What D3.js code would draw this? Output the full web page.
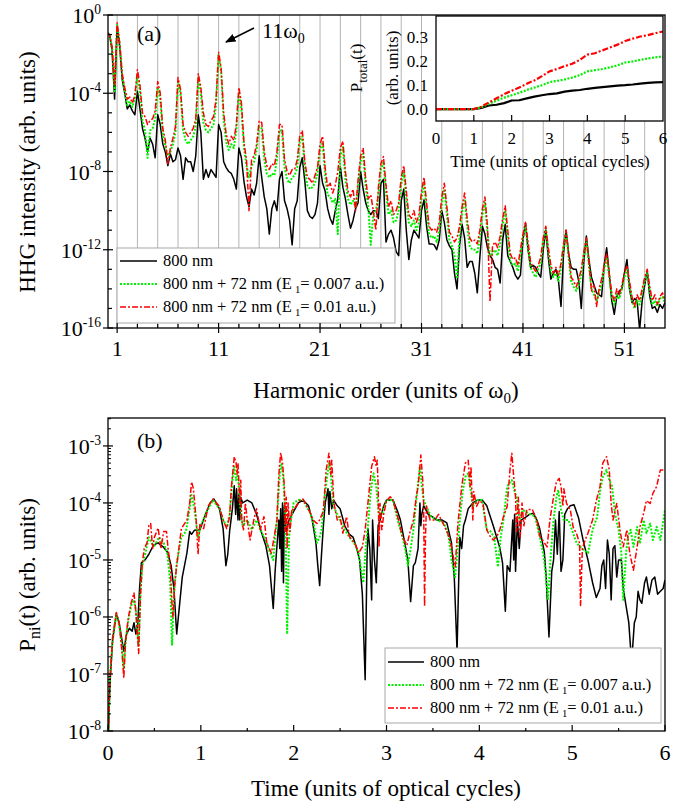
<!DOCTYPE html>
<html><head><meta charset="utf-8">
<script src="https://cdn.jsdelivr.net/npm/d3@7"></script>
<style>body{margin:0;background:#fff}svg text{font-family:"Liberation Serif","Times New Roman",Times,serif;fill:#000}</style>
</head><body><svg id="c" width="682" height="806"></svg>
<script>
// ---------------- DATA ----------------
// Panel (a): HHG spectra, log10 intensity sampled every 0.25 harmonic from 0 to 55 (rows = one harmonic unit)
const hhgBlackExp = [
-0.9,-1.0,-1.8,-4.3, -0.6,-1.6,-3.3,-4.0, -4.8,-4.6,-4.9,-5.1, -3.9,-4.8,-5.8,-6.3,
-7.0,-6.3,-6.6,-7.3, -5.1,-5.6,-6.6,-7.0, -7.7,-7.1,-7.5,-7.4, -6.8,-7.2,-8.4,-7.3,
-7.5,-7.5,-8.0,-7.2, -5.1,-6.0,-8.4,-7.9, -8.3,-7.9,-8.1,-8.3, -5.6,-6.0,-7.5,-7.8,
-8.0,-8.1,-8.4,-8.9, -6.8,-7.3,-8.5,-9.3, -9.8,-8.9,-9.2,-8.6, -7.2,-8.3,-9.3,-9.9,
-11.2,-9.9,-9.5,-10.0, -8.4,-8.0,-9.5,-9.9, -10.5,-11.75,-9.9,-9.5, -7.8,-7.3,-8.5,-10.0,
-10.3,-10.4,-10.2,-9.6, -7.7,-8.6,-9.0,-9.9, -10.4,-10.7,-10.0,-9.4, -7.75,-8.8,-9.4,-10.2,
-10.9,-10.5,-9.9,-9.6, -8.0,-8.9,-9.6,-10.0, -10.2,-10.0,-10.0,-10.4, -8.6,-8.4,-11.6,-11.2,
-11.0,-11.4,-12.1,-12.3, -9.5,-8.9,-11.0,-12.5, -11.5,-11.0,-11.2,-11.4, -10.0,-9.45,-10.8,-11.7,
-11.7,-11.75,-12.0,-11.5, -10.0,-10.6,-11.5,-11.8, -12.0,-13.2,-14.0,-11.8, -10.7,-11.4,-12.9,-12.6,
-12.6,-13.2,-14.2,-12.4, -10.8,-11.2,-11.9,-12.3, -12.5,-12.9,-13.0,-13.7, -11.5,-10.7,-12.3,-12.6,
-12.9,-13.3,-13.5,-13.3, -11.5,-10.65,-12.0,-12.9, -12.8,-12.9,-13.2,-13.4, -12.0,-11.0,-12.4,-13.5,
-13.2,-13.0,-13.6,-14.9, -12.2,-11.0,-12.2,-12.9, -13.0,-13.0,-13.6,-15.0, -12.6,-11.3,-12.5,-13.4,
-13.8,-14.2,-14.3,-14.4, -12.8,-11.9,-13.2,-14.6, -15.3,-14.4,-14.1,-14.0, -13.2,-12.5,-14.0,-14.7,
-14.5,-14.6,-16.1,-14.6, -13.8,-13.1,-14.4,-15.0, -14.9,-15.2,-14.8,-15.0, -14.7];
const hhgGreenExp = [
-0.9,-1.0,-1.7,-3.9, -0.5,-1.5,-3.1,-3.9, -4.6,-4.4,-4.7,-4.3, -3.1,-3.9,-5.4,-5.9,
-7.3,-5.9,-5.8,-5.3, -3.7,-4.3,-6.1,-6.7, -7.2,-7.0,-6.6,-6.0, -3.4,-4.0,-5.9,-6.4,
-6.6,-6.4,-6.2,-5.7, -3.2,-4.0,-5.5,-5.9, -6.0,-5.8,-5.6,-4.6, -2.05,-2.9,-5.4,-6.5,
-6.9,-6.6,-6.8,-5.9, -4.0,-4.8,-6.8,-7.7, -8.3,-7.7,-7.5,-6.9, -5.7,-5.8,-7.4,-8.1,
-8.3,-8.1,-8.2,-7.4, -5.9,-5.9,-7.8,-8.4, -8.6,-8.3,-8.2,-7.8, -6.5,-6.2,-7.9,-8.7,
-8.9,-8.8,-8.6,-8.1, -6.9,-6.5,-8.2,-9.2, -9.3,-9.6,-9.4,-11.2, -7.2,-6.75,-8.4,-9.4,
-9.7,-9.5,-9.8,-8.8, -7.5,-7.1,-8.8,-9.8, -11.75,-10.2,-10.0,-9.2, -7.9,-7.5,-9.1,-10.2,
-10.0,-10.6,-10.5,-10.0, -8.7,-8.0,-9.4,-10.6, -10.8,-10.5,-11.0,-10.6, -9.4,-8.6,-10.0,-11.2,
-11.4,-11.3,-11.6,-11.0, -9.7,-8.9,-10.2,-11.5, -11.8,-12.3,-13.4,-11.3, -10.1,-9.4,-10.8,-11.8,
-12.0,-12.0,-12.2,-11.4, -10.2,-9.6,-11.1,-12.3, -12.2,-12.0,-12.3,-11.7, -10.7,-10.0,-11.4,-12.6,
-12.8,-12.7,-13.1,-12.3, -11.4,-10.8,-11.9,-12.9, -13.2,-13.4,-13.0,-12.7, -11.6,-10.9,-12.1,-13.1,
-13.4,-13.2,-13.6,-12.9, -11.9,-11.1,-12.4,-13.6, -13.9,-14.1,-13.8,-13.3, -12.3,-11.5,-12.8,-14.0,
-14.3,-14.6,-14.2,-13.8, -13.0,-12.4,-13.4,-14.4, -14.8,-14.3,-14.5,-14.0, -13.4,-13.0,-13.9,-14.6,
-15.0,-14.6,-14.8,-14.2, -13.6,-13.2,-14.1,-14.8, -14.6,-14.9,-14.5,-14.4, -14.7];
const hhgRedExp = [
-0.9,-1.0,-1.6,-3.6, -0.4,-1.4,-3.0,-3.7, -4.3,-4.2,-4.5,-4.1, -2.8,-3.6,-5.0,-5.2,
-5.6,-5.4,-5.3,-4.9, -3.4,-4.0,-5.8,-6.4, -7.6,-6.8,-6.3,-5.7, -3.2,-3.8,-5.6,-6.0,
-6.2,-6.0,-5.8,-5.3, -3.0,-3.7,-5.0,-5.6, -5.7,-5.4,-5.2,-4.3, -1.9,-2.7,-5.0,-6.1,
-6.6,-6.2,-6.4,-5.6, -3.7,-4.5,-6.5,-7.4, -10.0,-7.4,-7.2,-6.6, -5.4,-5.5,-7.0,-7.7,
-7.9,-7.6,-7.7,-7.0, -5.6,-5.6,-7.4,-8.0, -8.2,-7.9,-7.9,-7.4, -6.2,-5.9,-7.5,-8.3,
-8.4,-8.6,-8.2,-7.8, -6.6,-6.2,-7.8,-8.8, -8.6,-9.1,-8.7,-8.0, -6.8,-6.45,-8.0,-9.0,
-9.3,-8.9,-10.0,-8.4, -7.2,-6.8,-8.4,-9.4, -9.2,-10.0,-11.0,-8.8, -7.6,-7.24,-8.7,-9.8,
-9.5,-10.2,-10.0,-9.6, -8.3,-7.7,-9.0,-10.2, -10.4,-10.0,-10.6,-10.2, -9.0,-8.3,-9.6,-10.8,
-11.0,-10.9,-11.1,-10.6, -9.3,-8.6,-9.8,-11.1, -11.3,-11.6,-11.4,-10.8, -9.8,-9.1,-10.4,-11.4,
-11.6,-11.5,-11.7,-11.0, -9.9,-9.3,-10.8,-14.65, -11.8,-11.6,-11.9,-11.3, -10.4,-9.75,-11.0,-12.2,
-12.5,-12.4,-12.8,-12.0, -11.2,-10.6,-11.6,-12.6, -12.9,-13.1,-12.8,-12.4, -11.4,-10.8,-11.9,-12.8,
-13.2,-12.9,-13.3,-12.7, -11.7,-11.0,-12.2,-13.4, -13.6,-13.9,-13.5,-13.0, -12.1,-11.4,-12.6,-14.1,
-13.8,-14.9,-14.0,-13.5, -12.8,-12.2,-13.2,-14.2, -14.6,-14.0,-14.3,-13.8, -13.2,-12.8,-13.6,-14.4,
-14.9,-14.3,-14.6,-14.0, -13.4,-13.0,-13.9,-14.6, -14.3,-14.8,-14.4,-14.2, -14.6];
const harmonicStep = 0.25;
const harmonicTicksMajor = [1, 11, 21, 31, 41, 51];
const harmonicGridLines = [1,3,5,7,9,11,13,15,17,19,21,23,25,27,29,31,33,35,37,39,41,43,45,47,49,51,53];
const hhgDecadesMajor = [0, -4, -8, -12, -16];

// Inset: total ionization probability
const insetTime  = [0,0.5,1,1.2,1.4,1.6,1.8,2,2.2,2.4,2.6,2.8,3,3.2,3.4,3.6,3.8,4,4.2,4.4,4.6,4.8,5,5.2,5.4,5.6,5.8,6];
const insetBlack = [0,0,0,0.005,0.015,0.018,0.025,0.036,0.037,0.045,0.052,0.058,0.063,0.066,0.073,0.077,0.08,0.085,0.089,0.092,0.095,0.098,0.1,0.103,0.107,0.11,0.112,0.113];
const insetGreen = [0,0,0,0.008,0.022,0.035,0.048,0.058,0.068,0.08,0.09,0.1,0.113,0.118,0.124,0.132,0.142,0.158,0.163,0.168,0.175,0.183,0.195,0.2,0.206,0.212,0.217,0.22];
const insetRed   = [0,0,0,0.01,0.028,0.045,0.062,0.077,0.09,0.106,0.12,0.138,0.158,0.168,0.18,0.19,0.206,0.228,0.234,0.246,0.258,0.27,0.285,0.295,0.304,0.31,0.318,0.325];
const insetXTicks = [0,1,2,3,4,5,6];
const insetYTicks = [0.0,0.1,0.2,0.3];

// Panel (b): P_ni(t), pairs [time, log10 value]
const pniBlack = [[0.0,-8.3],[0.02,-7.2],[0.05,-6.4],[0.09,-5.95],[0.12,-6.1],[0.15,-6.4],[0.17,-6.6],[0.2,-6.3],[0.23,-6.2],[0.26,-6.25],[0.28,-6.1],[0.3,-6.3],[0.32,-6.15],[0.34,-5.5],[0.36,-5.05],[0.4,-5.0],[0.44,-4.9],[0.49,-4.74],[0.54,-4.7],[0.6,-4.78],[0.64,-4.86],[0.68,-5.1],[0.71,-5.5],[0.74,-6.3],[0.77,-5.8],[0.8,-5.3],[0.85,-4.88],[0.88,-4.5],[0.9,-4.55],[0.93,-4.48],[0.99,-4.47],[1.05,-4.2],[1.1,-4.0],[1.14,-3.93],[1.2,-4.1],[1.24,-4.45],[1.27,-5.1],[1.29,-4.9],[1.31,-4.5],[1.34,-4.1],[1.36,-3.7],[1.375,-4.2],[1.385,-3.75],[1.4,-4.3],[1.41,-3.85],[1.42,-4.3],[1.43,-3.9],[1.45,-4.0],[1.5,-3.95],[1.55,-4.0],[1.6,-4.2],[1.65,-4.5],[1.7,-4.75],[1.74,-5.1],[1.78,-5.85],[1.8,-5.2],[1.82,-4.75],[1.84,-4.3],[1.85,-4.8],[1.86,-4.1],[1.87,-5.2],[1.88,-4.0],[1.89,-5.4],[1.9,-4.05],[1.92,-4.5],[1.95,-4.3],[2.0,-4.15],[2.05,-4.0],[2.1,-3.95],[2.16,-4.05],[2.2,-4.3],[2.24,-4.7],[2.26,-5.1],[2.28,-5.45],[2.3,-4.9],[2.32,-4.4],[2.34,-4.0],[2.37,-3.75],[2.38,-4.2],[2.39,-3.8],[2.41,-4.1],[2.43,-3.95],[2.47,-4.05],[2.5,-4.1],[2.55,-4.4],[2.6,-4.55],[2.64,-4.6],[2.68,-4.8],[2.71,-5.0],[2.74,-5.6],[2.77,-7.1],[2.79,-5.0],[2.8,-4.45],[2.82,-4.8],[2.84,-5.7],[2.85,-4.3],[2.87,-5.0],[2.89,-5.4],[2.91,-4.4],[2.93,-4.3],[2.97,-4.05],[3.0,-3.95],[3.07,-3.95],[3.12,-4.15],[3.15,-4.3],[3.2,-4.73],[3.23,-5.0],[3.26,-5.73],[3.29,-5.1],[3.31,-5.05],[3.34,-4.8],[3.36,-4.0],[3.37,-4.4],[3.38,-4.2],[3.4,-4.05],[3.45,-4.2],[3.5,-4.25],[3.54,-4.3],[3.6,-4.3],[3.65,-4.35],[3.7,-4.7],[3.73,-5.3],[3.76,-6.6],[3.78,-5.2],[3.79,-4.6],[3.81,-4.8],[3.83,-4.4],[3.85,-4.3],[3.88,-4.1],[3.93,-4.0],[3.98,-3.95],[4.03,-3.95],[4.08,-4.05],[4.15,-4.4],[4.22,-4.78],[4.25,-5.05],[4.28,-5.9],[4.3,-5.1],[4.33,-5.2],[4.36,-4.3],[4.37,-5.0],[4.38,-4.2],[4.39,-5.2],[4.41,-4.3],[4.43,-4.8],[4.45,-4.3],[4.5,-4.25],[4.54,-4.2],[4.58,-4.18],[4.62,-4.3],[4.65,-4.45],[4.7,-4.86],[4.72,-5.3],[4.75,-6.35],[4.78,-5.2],[4.8,-5.0],[4.82,-4.3],[4.84,-4.9],[4.86,-4.15],[4.88,-5.2],[4.9,-5.0],[4.92,-4.2],[4.95,-4.1],[4.98,-4.05],[5.02,-4.03],[5.07,-4.27],[5.12,-4.67],[5.17,-5.0],[5.22,-5.4],[5.26,-5.66],[5.3,-5.5],[5.32,-5.1],[5.34,-5.0],[5.36,-5.5],[5.38,-4.65],[5.4,-4.9],[5.42,-5.7],[5.44,-4.8],[5.46,-4.75],[5.48,-5.3],[5.5,-5.0],[5.53,-5.0],[5.55,-5.5],[5.58,-5.8],[5.61,-6.1],[5.64,-6.8],[5.67,-6.1],[5.69,-6.0],[5.71,-5.55],[5.73,-5.7],[5.75,-5.76],[5.78,-5.4],[5.8,-5.3],[5.83,-5.6],[5.86,-5.35],[5.89,-5.3],[5.92,-5.6],[5.95,-5.55],[5.98,-5.5],[6.0,-5.35]];
const pniGreen = [[0.0,-8.3],[0.02,-7.1],[0.05,-6.4],[0.09,-5.95],[0.12,-6.15],[0.15,-6.5],[0.17,-6.9],[0.19,-6.4],[0.22,-6.05],[0.25,-5.8],[0.28,-5.7],[0.3,-5.9],[0.33,-6.5],[0.35,-5.6],[0.37,-5.1],[0.4,-4.9],[0.44,-4.6],[0.47,-4.7],[0.5,-4.75],[0.55,-4.6],[0.6,-4.7],[0.64,-4.9],[0.67,-5.4],[0.69,-6.5],[0.71,-5.6],[0.74,-5.06],[0.79,-4.6],[0.84,-4.5],[0.88,-4.1],[0.9,-3.86],[0.93,-4.1],[0.97,-4.6],[1.0,-4.4],[1.05,-4.2],[1.13,-3.95],[1.2,-4.1],[1.24,-4.3],[1.28,-4.42],[1.31,-4.2],[1.34,-3.6],[1.36,-3.36],[1.38,-3.6],[1.4,-3.5],[1.42,-4.01],[1.45,-4.4],[1.5,-4.3],[1.55,-4.47],[1.6,-4.3],[1.65,-4.5],[1.7,-4.65],[1.74,-4.85],[1.78,-5.0],[1.8,-4.6],[1.82,-4.3],[1.85,-3.5],[1.87,-3.3],[1.89,-3.6],[1.91,-4.2],[1.93,-6.3],[1.95,-4.6],[1.97,-4.3],[2.0,-4.0],[2.05,-3.95],[2.1,-3.95],[2.18,-4.18],[2.22,-4.4],[2.25,-4.7],[2.28,-4.6],[2.3,-4.47],[2.34,-3.8],[2.38,-3.3],[2.4,-3.5],[2.43,-4.06],[2.47,-4.2],[2.5,-4.3],[2.55,-4.47],[2.6,-4.6],[2.65,-4.7],[2.7,-4.88],[2.75,-5.4],[2.78,-4.7],[2.8,-4.4],[2.83,-3.8],[2.86,-3.48],[2.89,-3.71],[2.92,-4.24],[2.95,-4.2],[3.0,-3.95],[3.07,-3.95],[3.12,-4.3],[3.17,-4.59],[3.2,-4.8],[3.23,-5.1],[3.26,-4.8],[3.29,-4.47],[3.33,-3.8],[3.36,-3.36],[3.38,-3.7],[3.4,-3.95],[3.43,-4.06],[3.48,-4.24],[3.55,-4.3],[3.62,-4.36],[3.67,-4.6],[3.7,-5.0],[3.74,-5.3],[3.77,-4.7],[3.79,-4.3],[3.82,-3.8],[3.85,-3.54],[3.88,-3.48],[3.9,-3.7],[3.93,-4.06],[3.98,-3.95],[4.03,-3.95],[4.08,-4.47],[4.12,-4.5],[4.16,-4.6],[4.2,-5.12],[4.23,-4.6],[4.26,-4.3],[4.3,-3.71],[4.35,-3.6],[4.38,-3.8],[4.4,-3.89],[4.43,-4.3],[4.47,-4.12],[4.53,-4.18],[4.6,-4.24],[4.65,-4.59],[4.69,-4.9],[4.71,-5.18],[4.74,-5.7],[4.77,-4.9],[4.8,-4.3],[4.83,-3.9],[4.85,-3.77],[4.88,-4.12],[4.91,-4.3],[4.96,-4.3],[5.05,-4.71],[5.12,-4.82],[5.17,-4.88],[5.22,-4.47],[5.27,-4.24],[5.3,-3.8],[5.33,-3.54],[5.37,-3.42],[5.4,-3.6],[5.43,-3.71],[5.46,-4.18],[5.5,-4.47],[5.53,-4.88],[5.55,-5.7],[5.58,-4.9],[5.6,-4.59],[5.63,-4.47],[5.66,-4.77],[5.7,-4.42],[5.73,-4.71],[5.77,-4.3],[5.8,-4.53],[5.84,-4.36],[5.87,-4.65],[5.91,-4.42],[5.95,-4.65],[6.0,-4.12]];
const pniRed = [[0.0,-8.3],[0.02,-7.1],[0.05,-6.35],[0.09,-5.92],[0.12,-6.1],[0.15,-6.6],[0.17,-7.07],[0.19,-6.4],[0.22,-6.0],[0.25,-5.75],[0.28,-5.58],[0.3,-5.9],[0.33,-6.64],[0.35,-5.6],[0.37,-5.05],[0.39,-4.8],[0.42,-4.7],[0.44,-4.4],[0.46,-4.36],[0.48,-4.8],[0.5,-4.6],[0.54,-4.44],[0.57,-4.8],[0.6,-4.5],[0.63,-4.5],[0.65,-4.85],[0.67,-5.05],[0.69,-5.8],[0.7,-6.0],[0.72,-5.4],[0.74,-5.1],[0.79,-4.45],[0.85,-4.3],[0.88,-4.0],[0.9,-3.63],[0.92,-3.75],[0.95,-4.3],[0.97,-4.9],[0.99,-4.36],[1.03,-4.45],[1.08,-4.05],[1.13,-3.93],[1.2,-4.06],[1.24,-4.3],[1.28,-4.45],[1.31,-4.24],[1.33,-3.7],[1.36,-3.19],[1.38,-3.3],[1.39,-3.5],[1.4,-3.3],[1.42,-4.0],[1.43,-3.6],[1.44,-4.3],[1.46,-4.47],[1.48,-4.0],[1.5,-4.3],[1.53,-4.65],[1.57,-4.3],[1.6,-4.1],[1.64,-4.47],[1.68,-4.24],[1.71,-4.7],[1.76,-4.88],[1.8,-4.5],[1.82,-4.3],[1.84,-3.5],[1.86,-3.12],[1.88,-3.3],[1.9,-3.71],[1.91,-4.5],[1.92,-3.9],[1.93,-4.8],[1.94,-4.0],[1.96,-4.5],[1.98,-4.1],[2.0,-4.12],[2.07,-3.95],[2.1,-3.93],[2.18,-4.18],[2.21,-4.3],[2.25,-4.36],[2.28,-4.3],[2.32,-4.14],[2.35,-3.42],[2.38,-3.13],[2.4,-3.5],[2.41,-3.25],[2.43,-3.9],[2.44,-4.06],[2.47,-4.3],[2.5,-4.24],[2.53,-4.53],[2.57,-4.24],[2.6,-4.59],[2.66,-4.71],[2.7,-4.88],[2.74,-4.77],[2.77,-4.47],[2.8,-4.0],[2.84,-3.36],[2.87,-3.19],[2.89,-3.36],[2.9,-3.25],[2.91,-3.71],[2.92,-4.77],[2.93,-4.01],[2.95,-4.47],[2.97,-4.2],[3.0,-3.96],[3.04,-3.89],[3.07,-3.95],[3.13,-4.3],[3.17,-4.59],[3.22,-4.74],[3.25,-4.53],[3.29,-4.3],[3.32,-3.9],[3.34,-3.72],[3.37,-3.16],[3.39,-3.6],[3.4,-4.01],[3.41,-5.82],[3.42,-4.6],[3.43,-4.06],[3.47,-4.3],[3.52,-4.3],[3.56,-4.2],[3.61,-4.36],[3.66,-4.53],[3.7,-4.77],[3.74,-5.12],[3.77,-4.35],[3.81,-3.71],[3.85,-3.3],[3.88,-3.25],[3.9,-3.71],[3.91,-3.36],[3.93,-4.3],[3.94,-3.8],[3.97,-4.06],[4.0,-3.96],[4.04,-4.01],[4.08,-4.47],[4.11,-4.57],[4.15,-4.65],[4.19,-4.59],[4.22,-4.47],[4.26,-4.24],[4.3,-4.06],[4.33,-3.42],[4.35,-3.13],[4.37,-3.54],[4.39,-3.89],[4.4,-4.5],[4.42,-3.9],[4.44,-4.6],[4.46,-4.0],[4.48,-4.4],[4.51,-4.12],[4.57,-4.11],[4.62,-4.3],[4.65,-4.58],[4.68,-4.65],[4.73,-4.77],[4.76,-4.3],[4.8,-3.89],[4.83,-3.63],[4.86,-3.57],[4.88,-3.71],[4.9,-4.06],[4.91,-3.75],[4.94,-4.01],[4.98,-4.12],[5.01,-4.42],[5.05,-4.55],[5.08,-4.71],[5.09,-5.8],[5.11,-4.8],[5.14,-4.65],[5.17,-4.53],[5.22,-4.3],[5.26,-3.96],[5.3,-3.71],[5.33,-3.3],[5.37,-3.19],[5.4,-3.42],[5.42,-4.01],[5.44,-4.3],[5.48,-4.01],[5.52,-4.53],[5.55,-4.77],[5.59,-4.47],[5.62,-4.88],[5.66,-5.18],[5.7,-4.77],[5.73,-4.42],[5.77,-4.18],[5.8,-3.96],[5.84,-4.01],[5.87,-3.83],[5.91,-3.71],[5.95,-3.42],[6.0,-3.42]];
const timeTicks = [0,1,2,3,4,5,6];
const timeMinorTicks = [0.5,1.5,2.5,3.5,4.5,5.5];
const pniDecades = [-3,-4,-5,-6,-7,-8];

const legendLabels = ["800 nm", "800 nm + 72 nm (E", "800 nm + 72 nm (E"];
const legendFields = ["", "= 0.007 a.u.)", "= 0.01 a.u.)"];

// ---------------- STYLE ----------------
const styles = [
  {stroke:"#000000", width:1.5, dash:null},
  {stroke:"#00f000", width:2, dash:"2,1.5"},
  {stroke:"#ff0000", width:1.5, dash:"6,2,2,2"}
];

const svg = d3.select("#c");

function logLabel(g, x, y, exp, size) {
  const t = g.append("text").attr("x", x).attr("y", y).attr("text-anchor","end").attr("font-size", size);
  t.append("tspan").text("10");
  t.append("tspan").attr("dy", -size*0.42).attr("font-size", size*0.62).text(exp === 0 ? "0" : String(exp));
}
function drawSeries(g, data, line, st) {
  const p = g.append("path").datum(data).attr("d", line).attr("fill","none")
    .attr("stroke", st.stroke).attr("stroke-width", st.width).attr("stroke-linejoin","round");
  if (st.dash) p.attr("stroke-dasharray", st.dash);
}

// ================= PANEL (a) =================
const xA = d3.scaleLinear().domain([0.1, 55]).range([108, 665]);
const yA = d3.scaleLog().domain([1e-16, 1]).range([328, 15]);
const gA = svg.append("g");
svg.append("clipPath").attr("id","clipA").append("rect").attr("x",108).attr("y",15).attr("width",557).attr("height",313);

gA.append("g").selectAll("line").data(harmonicGridLines).join("line")
  .attr("x1", d=>xA(d)).attr("x2", d=>xA(d)).attr("y1", 15).attr("y2", 328)
  .attr("stroke","#b4b4b4").attr("stroke-width",1);

const lineA = d3.line().x(d=>xA(d[0])).y(d=>yA(d[1]));
const seriesA = [hhgBlackExp, hhgGreenExp, hhgRedExp].map(arr => arr.map((e,i)=>[i*harmonicStep, Math.pow(10, e)]));
const plotA = gA.append("g").attr("clip-path","url(#clipA)");
seriesA.forEach((s,i)=>drawSeries(plotA, s, lineA, styles[i]));

// legend
function legend(g, x0, y0, w, h, rowY, sampleX1, sampleX2, textX, fs) {
  g.append("rect").attr("x",x0).attr("y",y0).attr("width",w).attr("height",h)
    .attr("fill","#fff").attr("stroke","#a8a8a8").attr("stroke-width",1);
  rowY.forEach((ry,i)=>{
    const st = styles[i];
    const l = g.append("line").attr("x1",sampleX1).attr("x2",sampleX2).attr("y1",ry).attr("y2",ry)
      .attr("stroke",st.stroke).attr("stroke-width",st.width);
    if (st.dash) l.attr("stroke-dasharray", st.dash);
    const t = g.append("text").attr("x",textX).attr("y",ry+5).attr("font-size",fs);
    t.append("tspan").text(legendLabels[i]);
    if (i>0) {
      t.append("tspan").attr("dx",3).attr("dy",4).attr("font-size",fs*0.65).text("1");
      t.append("tspan").attr("dy",-4).text(legendFields[i]);
    }
  });
}
legend(gA, 117, 248, 278, 75, [261, 284, 307], 120, 157, 163, 16.5);

// frame (a)
gA.append("rect").attr("x",108).attr("y",15).attr("width",557).attr("height",313)
  .attr("fill","none").attr("stroke","#000").attr("stroke-width",1.3);
harmonicGridLines.forEach(h=>{
  const major = harmonicTicksMajor.includes(h);
  gA.append("line").attr("x1",xA(h)).attr("x2",xA(h)).attr("y1",major?323:324).attr("y2",major?333:328)
    .attr("stroke","#000").attr("stroke-width",1.2);
});
harmonicTicksMajor.forEach(h=>{
  gA.append("text").attr("x",xA(h)).attr("y",356).attr("text-anchor","middle").attr("font-size",22).text(h);
});
d3.range(0,-17,-1).forEach(e=>{
  const major = hhgDecadesMajor.includes(e);
  const y = yA(Math.pow(10,e));
  gA.append("line").attr("x1",major?103:108).attr("x2",major?113:112).attr("y1",y).attr("y2",y)
    .attr("stroke","#000").attr("stroke-width",1.2);
  if (major) logLabel(gA, 101, y+8, e, 22);
});
gA.append("text").attr("transform","translate(35,172) rotate(-90)").attr("text-anchor","middle").attr("font-size",23)
  .text("HHG intensity (arb. units)");
{
  const t = gA.append("text").attr("x",386).attr("y",398).attr("text-anchor","middle").attr("font-size",23);
  t.append("tspan").text("Harmonic order (units of ω");
  t.append("tspan").attr("dy",5).attr("font-size",15).text("0");
  t.append("tspan").attr("dy",-5).text(")");
}
gA.append("text").attr("x",137).attr("y",41).attr("font-size",22).text("(a)");
{
  const t = gA.append("text").attr("x",262).attr("y",38).attr("font-size",22);
  t.append("tspan").text("11ω");
  t.append("tspan").attr("dy",5).attr("font-size",14).text("0");
}
svg.append("defs").append("marker").attr("id","arr").attr("viewBox","0 0 10 10").attr("refX",9).attr("refY",5)
  .attr("markerWidth",7).attr("markerHeight",7).attr("orient","auto")
  .append("path").attr("d","M0,1 L10,5 L0,9 Z").attr("fill","#000");
gA.append("line").attr("x1",254).attr("y1",28).attr("x2",226).attr("y2",42)
  .attr("stroke","#000").attr("stroke-width",1.5).attr("marker-end","url(#arr)");

// ---- inset ----
const xI = d3.scaleLinear().domain([0,6]).range([436, 663]);
const yI = d3.scaleLinear().domain([-0.05, 0.39]).range([121, 16]);
const gI = svg.append("g");
gI.append("rect").attr("x",436).attr("y",16).attr("width",227).attr("height",105).attr("fill","#fff");
const lineI = d3.line().x(d=>xI(d[0])).y(d=>yI(d[1]));
[insetBlack, insetGreen, insetRed].forEach((arr,i)=>{
  const st = Object.assign({}, styles[i], {width: 2.2});
  drawSeries(gI, arr.map((v,j)=>[insetTime[j], v]), lineI, st);
});
gI.append("rect").attr("x",436).attr("y",16).attr("width",227).attr("height",105)
  .attr("fill","none").attr("stroke","#000").attr("stroke-width",1.3);
insetXTicks.forEach(t=>{
  if (t>0 && t<6) gI.append("line").attr("x1",xI(t)).attr("x2",xI(t)).attr("y1",121).attr("y2",115).attr("stroke","#000").attr("stroke-width",1.2);
  gI.append("text").attr("x",xI(t)).attr("y",144).attr("text-anchor","middle").attr("font-size",17).text(t);
});
insetYTicks.forEach(v=>{
  gI.append("text").attr("x",428).attr("y",yI(v)+6).attr("text-anchor","end").attr("font-size",17).text(v.toFixed(1));
});
gI.append("text").attr("x",550).attr("y",167).attr("text-anchor","middle").attr("font-size",17).text("Time (units of optical cycles)");
{
  const t = gI.append("text").attr("transform","translate(362,68) rotate(-90)").attr("text-anchor","middle").attr("font-size",17);
  t.append("tspan").text("P");
  t.append("tspan").attr("dy",5).attr("font-size",13).text("total");
  t.append("tspan").attr("dy",-5).text("(t)");
}
gI.append("text").attr("transform","translate(398,68) rotate(-90)").attr("text-anchor","middle").attr("font-size",17).text("(arb. units)");

// ================= PANEL (b) =================
const xB = d3.scaleLinear().domain([0,6]).range([108,665]);
const yB = d3.scaleLog().domain([1e-8, Math.pow(10,-2.51)]).range([731,418]);
const gB = svg.append("g");
svg.append("clipPath").attr("id","clipB").append("rect").attr("x",108).attr("y",418).attr("width",557).attr("height",313);
const lineB = d3.line().x(d=>xB(d[0])).y(d=>yB(Math.pow(10,d[1])));
const plotB = gB.append("g").attr("clip-path","url(#clipB)");
[pniBlack, pniGreen, pniRed].forEach((s,i)=>drawSeries(plotB, s, lineB, styles[i]));

legend(gB, 385, 648, 276, 75, [662, 685, 708], 388, 424, 430, 16.5);

gB.append("rect").attr("x",108).attr("y",418).attr("width",557).attr("height",313)
  .attr("fill","none").attr("stroke","#000").attr("stroke-width",1.3);
timeTicks.forEach(t=>{
  gB.append("line").attr("x1",xB(t)).attr("x2",xB(t)).attr("y1",731).attr("y2",725).attr("stroke","#000").attr("stroke-width",1.2);
  gB.append("text").attr("x",xB(t)).attr("y",760).attr("text-anchor","middle").attr("font-size",22).text(t);
});
timeMinorTicks.forEach(t=>{
  gB.append("line").attr("x1",xB(t)).attr("x2",xB(t)).attr("y1",731).attr("y2",728).attr("stroke","#000").attr("stroke-width",1.2);
});
pniDecades.forEach(e=>{
  const y = yB(Math.pow(10,e));
  gB.append("line").attr("x1",103).attr("x2",113).attr("y1",y).attr("y2",y).attr("stroke","#000").attr("stroke-width",1.2);
  logLabel(gB, 101, y+8, e, 22);
  [2,3,4,5,6,7,8,9].forEach(m=>{
    const v = m*Math.pow(10,e);
    if (v < Math.pow(10,-2.51)) {
      const ym = yB(v);
      gB.append("line").attr("x1",108).attr("x2",111).attr("y1",ym).attr("y2",ym).attr("stroke","#000").attr("stroke-width",1);
    }
  });
});
gB.append("text").attr("x",137).attr("y",448).attr("font-size",22).text("(b)");
gB.append("text").attr("x",386).attr("y",796).attr("text-anchor","middle").attr("font-size",23).text("Time (units of optical cycles)");
{
  const t = gB.append("text").attr("transform","translate(35,575) rotate(-90)").attr("text-anchor","middle").attr("font-size",23);
  t.append("tspan").text("P");
  t.append("tspan").attr("dy",5).attr("font-size",16).text("ni");
  t.append("tspan").attr("dy",-5).text("(t) (arb. units)");
}
</script></body></html>
